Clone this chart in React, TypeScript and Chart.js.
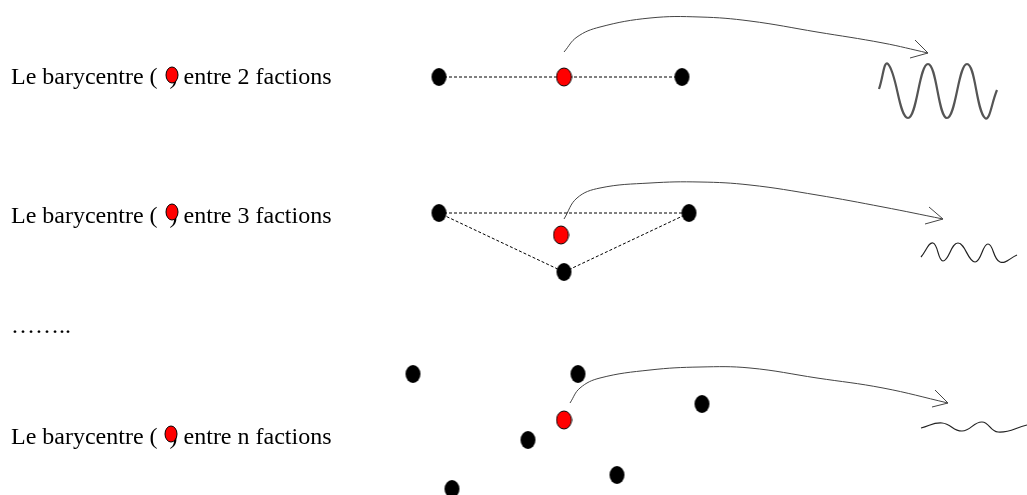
import React, { useEffect, useRef } from "react";
import { Chart, registerables } from "chart.js";
Chart.register(...registerables);

// Text rows
const rowLabels = [
  "Le barycentre (  ) entre 2 factions",
  "Le barycentre (  ) entre 3 factions",
  "……..",
  "Le barycentre (  ) entre n factions",
];
const rowLabelX = [11, 11, 11, 11];
const rowLabelY = [78, 217, 327, 438];

// Small red markers inside the text
const textRedX = [172, 172, 171];
const textRedY = [75, 212, 434];

// Row 1 : 2 factions
const row1BlackX = [439, 682];
const row1BlackY = [77, 77];
const row1RedX = [564];
const row1RedY = [77];
const row1LinkX = [439, 682];
const row1LinkY = [77, 77];

// Row 2 : 3 factions
const row2BlackX = [439, 689, 564];
const row2BlackY = [213, 213, 272];
const row2RedX = [561];
const row2RedY = [235];
const row2LinkX = [439, 689, 564, 439];
const row2LinkY = [213, 213, 272, 213];

// Row 3 : n factions
const row3BlackX = [413, 578, 702, 528, 617, 452];
const row3BlackY = [374, 374, 404, 440, 475, 489];
const row3RedX = [564];
const row3RedY = [420];

// Arrows (curves)
const arrow1X = [564, 577, 600, 650, 700, 750, 817, 883, 928];
const arrow1Y = [52, 37, 27, 18, 17, 21, 32, 43, 53];
const arrow2X = [564, 577, 600, 650, 700, 750, 817, 883, 943];
const arrow2Y = [219, 198, 188, 183, 182, 185, 195, 207, 219];
const arrow3X = [570, 580, 600, 650, 700, 750, 817, 883, 948];
const arrow3Y = [403, 388, 378, 370, 367, 368, 378, 388, 403];

// Arrow heads (barb start points; they end at the curve tip)
const head1BarbX = [915, 910];
const head1BarbY = [40, 58];
const head2BarbX = [929, 925];
const head2BarbY = [207, 224];
const head3BarbX = [935, 932];
const head3BarbY = [390, 407];

// Waves
const wave1X = [879, 888, 908, 928, 947, 967, 985, 997];
const wave1Y = [89, 64, 118, 64, 118, 64, 118, 90];
const wave2X = [921, 933, 943, 958, 975, 988, 1000, 1017];
const wave2Y = [257, 243, 261, 243, 262, 244, 262, 255];
const wave3X = [921, 942, 962, 982, 998, 1027];
const wave3Y = [428, 423, 431, 422, 432, 425];

const zip = (xs: number[], ys: number[]) => xs.map((x, i) => ({ x, y: ys[i] }));

function ellipse(w: number, h: number, fill: string, stroke?: string) {
  const c = document.createElement("canvas");
  c.width = w + 2;
  c.height = h + 2;
  const ctx = c.getContext("2d")!;
  ctx.beginPath();
  ctx.ellipse((w + 2) / 2, (h + 2) / 2, w / 2, h / 2, 0, 0, Math.PI * 2);
  ctx.fillStyle = fill;
  ctx.fill();
  if (stroke) {
    ctx.strokeStyle = stroke;
    ctx.lineWidth = 1;
    ctx.stroke();
  }
  return c;
}

const FONT = '24px "Liberation Serif", "Times New Roman", serif';

const textPlugin = {
  id: "rowText",
  beforeDatasetsDraw(chart: any) {
    const { ctx, scales } = chart;
    ctx.save();
    ctx.font = FONT;
    ctx.fillStyle = "#000";
    ctx.textBaseline = "middle";
    ctx.textAlign = "left";
    rowLabels.forEach((t, i) => {
      ctx.fillText(t, scales.x.getPixelForValue(rowLabelX[i]), scales.y.getPixelForValue(rowLabelY[i]));
    });
    ctx.restore();
  },
};

export default function App() {
  const ref = useRef<HTMLCanvasElement>(null);
  useEffect(() => {
    const blackDot = ellipse(15, 18, "#000");
    const redDot = ellipse(15, 18, "#ff0000", "#000");
    const smallRed = ellipse(12, 16, "#ff0000", "#000");

    const lineDs = (xs: number[], ys: number[], color: string, width: number, dash: number[] = [], tension = 0.4) => ({
      type: "scatter" as const,
      data: zip(xs, ys),
      showLine: true,
      borderColor: color,
      borderWidth: width,
      borderDash: dash,
      tension,
      pointRadius: 0,
      fill: false,
      order: 10,
    });
    const dotDs = (xs: number[], ys: number[], style: any) => ({
      type: "scatter" as const,
      data: zip(xs, ys),
      pointStyle: style,
      pointRadius: 9,
      showLine: false,
      order: 1,
    });
    const barbs = (bx: number[], by: number[], tx: number, ty: number) =>
      bx.map((x, i) => lineDs([x, tx], [by[i], ty], "#444", 1, [], 0));

    const datasets: any[] = [
      lineDs(row1LinkX, row1LinkY, "#000", 1, [3, 2], 0),
      lineDs(row2LinkX, row2LinkY, "#000", 1, [3, 2], 0),
      lineDs(arrow1X, arrow1Y, "#444", 1),
      lineDs(arrow2X, arrow2Y, "#444", 1),
      lineDs(arrow3X, arrow3Y, "#444", 1),
      ...barbs(head1BarbX, head1BarbY, arrow1X[arrow1X.length - 1], arrow1Y[arrow1Y.length - 1]),
      ...barbs(head2BarbX, head2BarbY, arrow2X[arrow2X.length - 1], arrow2Y[arrow2Y.length - 1]),
      ...barbs(head3BarbX, head3BarbY, arrow3X[arrow3X.length - 1], arrow3Y[arrow3Y.length - 1]),
      lineDs(wave1X, wave1Y, "#555", 2.2, [], 0.45),
      lineDs(wave2X, wave2Y, "#222", 1.2, [], 0.45),
      lineDs(wave3X, wave3Y, "#222", 1.2, [], 0.45),
      dotDs(row1BlackX, row1BlackY, blackDot),
      dotDs(row1RedX, row1RedY, redDot),
      dotDs(row2BlackX, row2BlackY, blackDot),
      dotDs(row2RedX, row2RedY, redDot),
      dotDs(row3BlackX, row3BlackY, blackDot),
      dotDs(row3RedX, row3RedY, redDot),
      dotDs(textRedX, textRedY, smallRed),
    ];

    const chart = new Chart(ref.current!, {
      type: "scatter",
      data: { datasets },
      options: {
        animation: false,
        responsive: true,
        maintainAspectRatio: false,
        layout: { padding: 0, autoPadding: false },
        plugins: { legend: { display: false }, tooltip: { enabled: false } },
        events: [],
        scales: {
          x: { type: "linear", min: 0, max: 1027, display: false },
          y: { type: "linear", min: 0, max: 495, reverse: true, display: false },
        },
      },
      plugins: [textPlugin],
    });
    return () => chart.destroy();
  }, []);

  return (
    <div style={{ position: "absolute", left: 0, top: 0, width: 1027, height: 495, background: "#fff" }}>
      <canvas ref={ref} />
    </div>
  );
}
